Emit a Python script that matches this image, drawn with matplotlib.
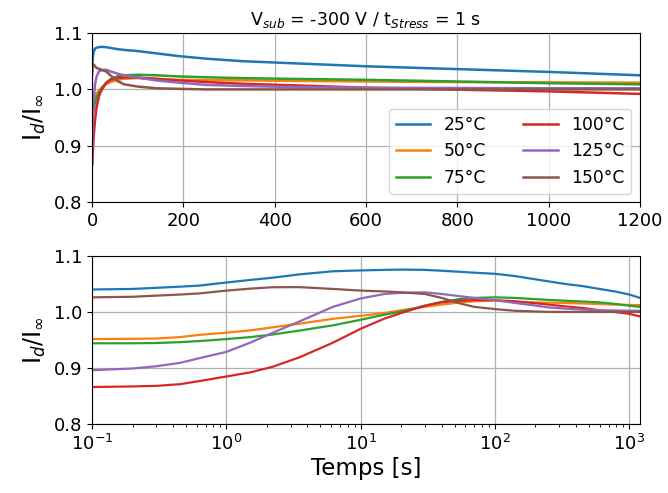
import matplotlib
matplotlib.use("Agg")
import matplotlib.pyplot as plt

t = [0.1, 0.2, 0.3, 0.45, 0.63, 1, 1.5, 2.2, 3.5, 6.2, 10, 15, 20, 30, 40, 55, 70, 100,
     140, 190, 250, 330, 450, 600, 800, 1000, 1200]

labels = ["25°C", "50°C", "75°C", "100°C", "125°C", "150°C"]
colors = ["#1f77b4", "#ff7f0e", "#2ca02c", "#d62728", "#9467bd", "#8c564b"]

y25 = [1.040, 1.041, 1.043, 1.045, 1.047, 1.0525, 1.057, 1.061, 1.067, 1.0725, 1.074, 1.075,
       1.0755, 1.075, 1.0735, 1.0715, 1.070, 1.068, 1.064, 1.059, 1.0545, 1.050, 1.046,
       1.041, 1.036, 1.031, 1.025]
y50 = [0.9515, 0.952, 0.9525, 0.955, 0.959, 0.963, 0.967, 0.9725, 0.979, 0.9877, 0.993, 0.998,
       1.003, 1.009, 1.013, 1.017, 1.019, 1.020, 1.018, 1.017, 1.0165, 1.016, 1.015, 1.014,
       1.013, 1.0125, 1.012]
y75 = [0.944, 0.944, 0.9445, 0.946, 0.948, 0.9515, 0.955, 0.9596, 0.9667, 0.976, 0.986, 0.995,
       1.0006, 1.011, 1.018, 1.023, 1.025, 1.026, 1.025, 1.023, 1.0215, 1.020, 1.0185, 1.017,
       1.014, 1.011, 1.009]
y100 = [0.866, 0.867, 0.868, 0.871, 0.8766, 0.8848, 0.892, 0.902, 0.919, 0.945, 0.970, 0.988,
        0.998, 1.011, 1.017, 1.020, 1.021, 1.021, 1.019, 1.016, 1.013, 1.010, 1.007, 1.003,
        0.9995, 0.9965, 0.992]
y125 = [0.896, 0.899, 0.903, 0.909, 0.9175, 0.9287, 0.945, 0.9626, 0.983, 1.009, 1.024, 1.032,
        1.034, 1.035, 1.032, 1.028, 1.025, 1.021, 1.016, 1.012, 1.008, 1.006, 1.004, 1.003,
        1.0025, 1.002, 1.002]
y150 = [1.026, 1.027, 1.029, 1.031, 1.033, 1.038, 1.0415, 1.044, 1.0442, 1.041, 1.038, 1.0365,
        1.035, 1.032, 1.025, 1.015, 1.009, 1.005, 1.002, 1.001, 1.000, 1.000, 1.000, 1.000,
        1.000, 1.000, 1.000]
series = [y25, y50, y75, y100, y125, y150]

fig = plt.figure(figsize=(6.68, 4.93), dpi=100)
ax1 = fig.add_axes([0.138, 0.590, 0.820, 0.343])
ax2 = fig.add_axes([0.138, 0.140, 0.820, 0.341])

for ys, c, lab in zip(series, colors, labels):
    ax1.plot(t, ys, color=c, lw=1.8, label=lab)
    ax2.plot(t, ys, color=c, lw=1.6)

ax1.set_xlim(0, 1200)
ax1.set_xticks([0, 200, 400, 600, 800, 1000, 1200])
ax2.set_xscale("log")
ax2.set_xlim(0.1, 1200)

for ax in (ax1, ax2):
    ax.set_ylim(0.8, 1.1)
    ax.set_yticks([0.8, 0.9, 1.0, 1.1])
    ax.grid(True, color="#b0b0b0", lw=0.9)
    ax.tick_params(labelsize=13)
    ax.set_ylabel(r"I$_d$/I$_\infty$", fontsize=17, labelpad=4)

ax1.set_title(r"V$_{sub}$ = -300 V / t$_{Stress}$ = 1 s", fontsize=12.5, pad=6)
ax2.set_xlabel("Temps [s]", fontsize=16.5, labelpad=2)
ax1.legend(ncol=2, loc="lower right", fontsize=12.3, handlelength=2.0,
           columnspacing=2.2, borderaxespad=0.5)

fig.savefig("out.png", dpi=100)
